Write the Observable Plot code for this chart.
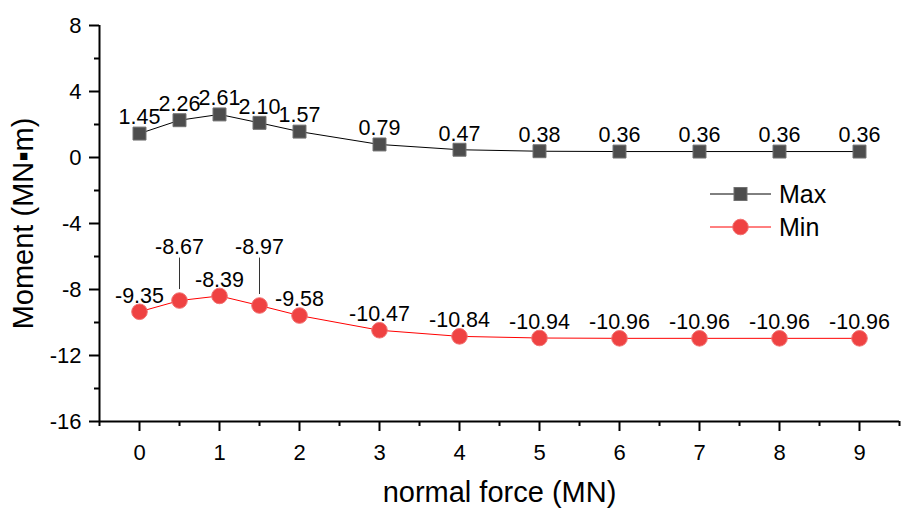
<!DOCTYPE html>
<html><head><meta charset="utf-8">
<script src="https://cdn.jsdelivr.net/npm/d3@7"></script>
<script src="https://cdn.jsdelivr.net/npm/@observablehq/plot@0.6"></script>
<style>body{margin:0;background:#fff} svg{display:block}</style>
</head><body><div id="chart"></div>
<script>
const force = [0, 0.5, 1, 1.5, 2, 3, 4, 5, 6, 7, 8, 9];
const maxMoment = [1.45, 2.26, 2.61, 2.10, 1.57, 0.79, 0.47, 0.38, 0.36, 0.36, 0.36, 0.36];
const minMoment = [-9.35, -8.67, -8.39, -8.97, -9.58, -10.47, -10.84, -10.94, -10.96, -10.96, -10.96, -10.96];
const minLeader = [false, true, false, true, false, false, false, false, false, false, false, false];
const seriesNames = ["Max", "Min"];
const xMajorTicks = [0, 1, 2, 3, 4, 5, 6, 7, 8, 9];
const xMinorTicks = [-0.5, 0.5, 1.5, 2.5, 3.5, 4.5, 5.5, 6.5, 7.5, 8.5, 9.5];
const yMajorTicks = [-16, -12, -8, -4, 0, 4, 8];
const yMinorTicks = [-14, -10, -6, -2, 2, 6];
const xTitle = "normal force (MN)";
const yTitle = "Moment (MN\u25AAm)";

const FONT = "'Liberation Sans', Arial, Helvetica, sans-serif";
const maxColor = "#000000", minColor = "#ff0000";
const maxFill = "#4d4d4d", minFill = "#ef4242";
const leaderLabelY = -5.46;

const maxRows = force.map((x, i) => ({x, y: maxMoment[i]}));
const minRows = force.map((x, i) => ({x, y: minMoment[i], leader: minLeader[i]}));
const fmt = d => d.y.toFixed(2);

const chart = Plot.plot({
  width: 913, height: 508,
  marginTop: 25, marginRight: 14, marginBottom: 87, marginLeft: 99,
  style: {fontFamily: FONT, fontSize: "22px", background: "#fff", color: "#000"},
  x: {domain: [-0.5, 9.5]},
  y: {domain: [-16, 8]},
  marks: [
    Plot.axisX(xMajorTicks, {tickSize: 10, tickPadding: 13, strokeWidth: 2, fontSize: 22, label: null, tickFormat: d => String(d)}),
    Plot.axisX(xMinorTicks, {tickSize: 5, strokeWidth: 2, tickFormat: () => "", label: null}),
    Plot.axisY(yMajorTicks, {tickSize: 10, tickPadding: 8, strokeWidth: 2, fontSize: 22, label: null, tickFormat: d => String(d)}),
    Plot.axisY(yMinorTicks, {tickSize: 5, strokeWidth: 2, tickFormat: () => "", label: null}),
    Plot.ruleY([-16], {stroke: "#000", strokeWidth: 2}),
    Plot.ruleX([-0.5], {stroke: "#000", strokeWidth: 2}),
    Plot.text([xTitle], {frameAnchor: "bottom", textAnchor: "middle", dy: 80, lineAnchor: "bottom", fontSize: 29, fill: "#000"}),
    Plot.text([yTitle], {frameAnchor: "left", textAnchor: "middle", dx: -87, rotate: -90, lineAnchor: "top", fontSize: 29, fill: "#000"}),
    Plot.line(maxRows, {x: "x", y: "y", stroke: maxColor, strokeWidth: 1}),
    Plot.line(minRows, {x: "x", y: "y", stroke: minColor, strokeWidth: 1}),
    Plot.dot(maxRows, {x: "x", y: "y", symbol: "square", r: 7.3, fill: maxFill, stroke: "#707070", strokeWidth: 1}),
    Plot.dot(minRows, {x: "x", y: "y", r: 7.8, fill: minFill, stroke: "#f27070", strokeWidth: 1}),
    Plot.text(maxRows, {x: "x", y: "y", text: fmt, dy: -16, fontSize: 21.5, fill: "#000"}),
    Plot.text(minRows.filter(d => !d.leader), {x: "x", y: "y", text: fmt, dy: -16, fontSize: 21.5, fill: "#000"}),
    Plot.text(minRows.filter(d => d.leader), {x: "x", y: () => leaderLabelY, text: fmt, fontSize: 21.5, fill: "#000"}),
    Plot.ruleX(minRows.filter(d => d.leader), {x: "x", y1: () => leaderLabelY, y2: "y", insetTop: 10.5, insetBottom: 11, stroke: "#333", strokeWidth: 1})
  ]
});
document.getElementById("chart").appendChild(chart);

// legend
const svg = d3.select(chart);
const lg = svg.append("g").attr("font-family", FONT).attr("font-size", 25).attr("text-anchor", "start");
const legendItems = [
  {name: seriesNames[0], color: maxColor, fill: maxFill, stroke: "#707070", shape: "square", cy: 194},
  {name: seriesNames[1], color: minColor, fill: minFill, stroke: "#f27070", shape: "circle", cy: 227}
];
for (const it of legendItems) {
  lg.append("line").attr("x1", 710).attr("x2", 771).attr("y1", it.cy).attr("y2", it.cy)
    .attr("stroke", it.color).attr("stroke-width", 1);
  if (it.shape === "square") {
    lg.append("rect").attr("x", 740.5 - 6.5).attr("y", it.cy - 6.5).attr("width", 13).attr("height", 13)
      .attr("fill", it.fill).attr("stroke", it.stroke);
  } else {
    lg.append("circle").attr("cx", 740.5).attr("cy", it.cy).attr("r", 7.8)
      .attr("fill", it.fill).attr("stroke", it.stroke);
  }
  lg.append("text").attr("x", 779).attr("y", it.cy).attr("dy", "0.35em").attr("text-anchor", "start").attr("fill", "#000").text(it.name);
}
</script>
</body></html>
